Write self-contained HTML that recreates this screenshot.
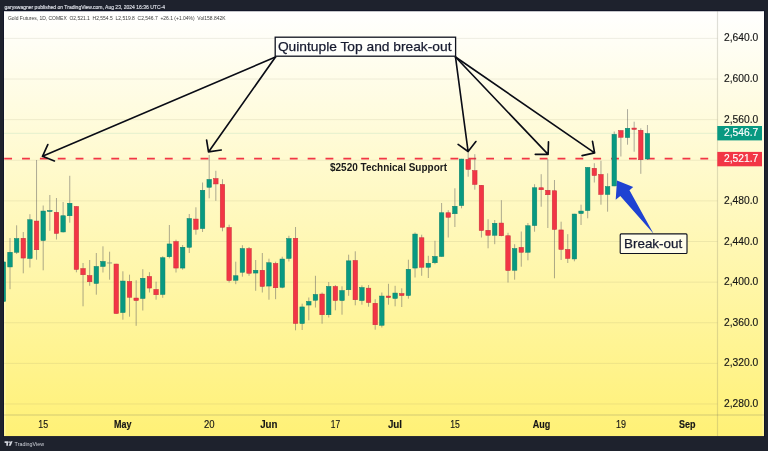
<!DOCTYPE html>
<html><head><meta charset="utf-8"><title>Gold Futures chart</title>
<style>
html,body{margin:0;padding:0;background:#1e222d;}
body{width:768px;height:451px;overflow:hidden;position:relative;font-family:"Liberation Sans",sans-serif;}
svg{position:absolute;left:0;top:0;display:block;}
text{font-family:"Liberation Sans",sans-serif;}
.grid{stroke:rgba(120,120,90,0.13);stroke-width:1;}
.w{stroke:rgba(95,95,95,0.62);stroke-width:0.85;}
.g{fill:#089981;stroke:#0b7f6c;stroke-width:0.5;}
.r{fill:#f23645;stroke:#c72c3a;stroke-width:0.5;}
.arr{fill:none;stroke:#0a0c16;stroke-width:1.65;stroke-linecap:round;stroke-linejoin:round;}
.pl{font-size:10.4px;fill:#161616;stroke:#161616;stroke-width:0.15;}
.tl{font-size:10.3px;fill:#161616;stroke:#161616;stroke-width:0.15;}
.b{font-weight:bold;}
.hdr{font-size:6.1px;fill:#dde0e8;stroke:#dde0e8;stroke-width:0.15;}
.lg{font-size:5.9px;fill:#3a3a3a;}
.tv{font-size:6.2px;fill:#d1d4dc;}
</style></head><body>
<svg width="768" height="451" viewBox="0 0 768 451">
<defs>
<linearGradient id="bg" x1="0" y1="0" x2="0" y2="1">
<stop offset="0" stop-color="#ffffff"/>
<stop offset="1" stop-color="#fff176"/>
</linearGradient>
<clipPath id="cc"><rect x="4" y="11" width="713.5" height="425"/></clipPath>
</defs>
<rect x="0" y="0" width="768" height="451" fill="#1e222d"/>
<rect x="3.2" y="10.2" width="761.6" height="426.8" fill="#12162a"/>
<rect x="4" y="11.25" width="760" height="424.85" fill="url(#bg)"/>
<rect x="4" y="11" width="1.8" height="425" fill="rgba(255,255,255,0.22)"/>
<rect x="762.2" y="11" width="1.8" height="425" fill="rgba(255,255,255,0.22)"/>
<text x="4.5" y="9" class="hdr" textLength="160.5" lengthAdjust="spacingAndGlyphs">garyswagner published on TradingView.com, Aug 23, 2024 16:36 UTC-4</text>
<text x="8" y="19.6" class="lg" textLength="217.5" lengthAdjust="spacingAndGlyphs" xml:space="preserve">Gold Futures, 1D, COMEX  O2,521.1  H2,554.5  L2,519.8  C2,546.7  +26.1 (+1.04%)  Vol158.842K</text>
<line x1="4" x2="717.5" y1="403.98" y2="403.98" class="grid"/>
<line x1="4" x2="717.5" y1="363.36" y2="363.36" class="grid"/>
<line x1="4" x2="717.5" y1="322.74" y2="322.74" class="grid"/>
<line x1="4" x2="717.5" y1="282.12" y2="282.12" class="grid"/>
<line x1="4" x2="717.5" y1="241.50" y2="241.50" class="grid"/>
<line x1="4" x2="717.5" y1="200.88" y2="200.88" class="grid"/>
<line x1="4" x2="717.5" y1="160.26" y2="160.26" class="grid"/>
<line x1="4" x2="717.5" y1="119.64" y2="119.64" class="grid"/>
<line x1="4" x2="717.5" y1="79.02" y2="79.02" class="grid"/>
<line x1="4" x2="717.5" y1="38.40" y2="38.40" class="grid"/>
<line x1="4" x2="717.5" y1="133.3" y2="133.3" stroke="rgba(8,153,129,0.11)" stroke-width="1"/>
<line x1="4.2" x2="717.5" y1="158.7" y2="158.7" stroke="#f23645" stroke-width="1.8" stroke-dasharray="7.85 10"/>
<g clip-path="url(#cc)"><line x1="3.36" x2="3.36" y1="258.0" y2="305.0" class="w"/>
<rect x="1.11" y="261.95" width="4.5" height="39.5" class="g"/>
<line x1="10.00" x2="10.00" y1="238.0" y2="289.2" class="w"/>
<rect x="7.75" y="252.25" width="4.5" height="14.7" class="g"/>
<line x1="16.64" x2="16.64" y1="225.3" y2="254.0" class="w"/>
<rect x="14.39" y="238.55" width="4.5" height="13.7" class="g"/>
<line x1="23.28" x2="23.28" y1="232.0" y2="273.3" class="w"/>
<rect x="21.03" y="238.25" width="4.5" height="19.8" class="r"/>
<line x1="29.92" x2="29.92" y1="214.2" y2="267.5" class="w"/>
<rect x="27.67" y="219.75" width="4.5" height="38.7" class="g"/>
<line x1="36.56" x2="36.56" y1="160.0" y2="259.7" class="w"/>
<rect x="34.31" y="221.05" width="4.5" height="28.7" class="r"/>
<line x1="43.20" x2="43.20" y1="205.5" y2="270.3" class="w"/>
<rect x="40.95" y="211.05" width="4.5" height="29.5" class="g"/>
<line x1="49.84" x2="49.84" y1="195.0" y2="230.8" class="w"/>
<rect x="47.59" y="210.55" width="4.5" height="0.9" class="g"/>
<line x1="56.48" x2="56.48" y1="198.0" y2="239.5" class="w"/>
<rect x="54.23" y="212.25" width="4.5" height="21.2" class="r"/>
<line x1="63.12" x2="63.12" y1="202.0" y2="232.5" class="w"/>
<rect x="60.87" y="215.75" width="4.5" height="16.2" class="g"/>
<line x1="69.76" x2="69.76" y1="175.8" y2="222.7" class="w"/>
<rect x="67.51" y="203.25" width="4.5" height="12.5" class="g"/>
<line x1="76.40" x2="76.40" y1="206.2" y2="272.3" class="w"/>
<rect x="74.15" y="206.45" width="4.5" height="63.0" class="r"/>
<line x1="83.04" x2="83.04" y1="263.0" y2="306.3" class="w"/>
<rect x="80.79" y="268.55" width="4.5" height="6.2" class="r"/>
<line x1="89.68" x2="89.68" y1="260.0" y2="285.8" class="w"/>
<rect x="87.43" y="275.55" width="4.5" height="6.2" class="r"/>
<line x1="96.32" x2="96.32" y1="253.0" y2="294.7" class="w"/>
<rect x="94.07" y="266.45" width="4.5" height="17.0" class="g"/>
<line x1="102.96" x2="102.96" y1="246.3" y2="272.5" class="w"/>
<rect x="100.71" y="261.45" width="4.5" height="5.0" class="g"/>
<line x1="109.60" x2="109.60" y1="251.7" y2="279.7" class="w"/>
<rect x="107.10" y="262.5" width="5.0" height="0.9" fill="#8d9a80"/>
<line x1="116.24" x2="116.24" y1="263.8" y2="313.8" class="w"/>
<rect x="113.99" y="264.05" width="4.5" height="49.5" class="r"/>
<line x1="122.88" x2="122.88" y1="271.3" y2="319.7" class="w"/>
<rect x="120.63" y="281.05" width="4.5" height="31.5" class="g"/>
<line x1="129.52" x2="129.52" y1="274.7" y2="316.7" class="w"/>
<rect x="127.27" y="281.45" width="4.5" height="15.8" class="r"/>
<line x1="136.16" x2="136.16" y1="280.3" y2="325.8" class="w"/>
<rect x="133.91" y="298.05" width="4.5" height="2.5" class="r"/>
<line x1="142.80" x2="142.80" y1="269.2" y2="310.5" class="w"/>
<rect x="140.55" y="278.25" width="4.5" height="20.2" class="g"/>
<line x1="149.44" x2="149.44" y1="272.2" y2="292.5" class="w"/>
<rect x="147.19" y="276.45" width="4.5" height="11.6" class="r"/>
<line x1="156.08" x2="156.08" y1="281.7" y2="299.7" class="w"/>
<rect x="153.83" y="289.45" width="4.5" height="5.3" class="r"/>
<line x1="162.72" x2="162.72" y1="256.3" y2="297.8" class="w"/>
<rect x="160.47" y="257.75" width="4.5" height="36.7" class="g"/>
<line x1="169.36" x2="169.36" y1="225.0" y2="258.3" class="w"/>
<rect x="167.11" y="243.95" width="4.5" height="12.8" class="g"/>
<line x1="176.00" x2="176.00" y1="239.7" y2="272.5" class="w"/>
<rect x="173.75" y="241.55" width="4.5" height="26.5" class="r"/>
<line x1="182.64" x2="182.64" y1="245.0" y2="269.7" class="w"/>
<rect x="180.39" y="247.25" width="4.5" height="20.8" class="g"/>
<line x1="189.28" x2="189.28" y1="214.0" y2="253.0" class="w"/>
<rect x="187.03" y="218.55" width="4.5" height="28.7" class="g"/>
<line x1="195.92" x2="195.92" y1="207.3" y2="234.7" class="w"/>
<rect x="193.67" y="219.05" width="4.5" height="10.2" class="r"/>
<line x1="202.56" x2="202.56" y1="182.5" y2="232.0" class="w"/>
<rect x="200.31" y="190.25" width="4.5" height="38.3" class="g"/>
<line x1="209.20" x2="209.20" y1="155.0" y2="198.3" class="w"/>
<rect x="206.95" y="179.45" width="4.5" height="7.8" class="g"/>
<line x1="215.84" x2="215.84" y1="170.8" y2="200.8" class="w"/>
<rect x="213.59" y="178.55" width="4.5" height="5.4" class="r"/>
<line x1="222.48" x2="222.48" y1="179.2" y2="231.3" class="w"/>
<rect x="220.23" y="184.45" width="4.5" height="42.8" class="r"/>
<line x1="229.12" x2="229.12" y1="224.7" y2="282.5" class="w"/>
<rect x="226.87" y="227.45" width="4.5" height="53.1" class="r"/>
<line x1="235.76" x2="235.76" y1="261.7" y2="284.2" class="w"/>
<rect x="233.51" y="275.75" width="4.5" height="4.5" class="g"/>
<line x1="242.40" x2="242.40" y1="245.2" y2="276.7" class="w"/>
<rect x="240.15" y="248.55" width="4.5" height="23.7" class="g"/>
<line x1="249.04" x2="249.04" y1="247.0" y2="275.8" class="w"/>
<rect x="246.79" y="248.55" width="4.5" height="24.7" class="r"/>
<line x1="255.68" x2="255.68" y1="260.0" y2="290.8" class="w"/>
<rect x="253.43" y="270.25" width="4.5" height="2.8" class="g"/>
<line x1="262.32" x2="262.32" y1="253.0" y2="292.5" class="w"/>
<rect x="260.07" y="270.25" width="4.5" height="16.2" class="r"/>
<line x1="268.96" x2="268.96" y1="258.7" y2="299.7" class="w"/>
<rect x="266.71" y="262.75" width="4.5" height="23.3" class="g"/>
<line x1="275.60" x2="275.60" y1="261.7" y2="299.2" class="w"/>
<rect x="273.35" y="263.45" width="4.5" height="24.3" class="r"/>
<line x1="282.24" x2="282.24" y1="256.7" y2="288.3" class="w"/>
<rect x="279.99" y="259.05" width="4.5" height="28.2" class="g"/>
<line x1="288.88" x2="288.88" y1="235.8" y2="261.5" class="w"/>
<rect x="286.63" y="238.55" width="4.5" height="19.9" class="g"/>
<line x1="295.52" x2="295.52" y1="227.0" y2="330.3" class="w"/>
<rect x="293.27" y="238.25" width="4.5" height="85.2" class="r"/>
<line x1="302.16" x2="302.16" y1="303.7" y2="330.0" class="w"/>
<rect x="299.91" y="306.95" width="4.5" height="16.6" class="g"/>
<line x1="308.80" x2="308.80" y1="297.5" y2="320.3" class="w"/>
<rect x="306.55" y="301.45" width="4.5" height="3.6" class="g"/>
<line x1="315.44" x2="315.44" y1="275.8" y2="307.5" class="w"/>
<rect x="313.19" y="294.45" width="4.5" height="5.8" class="g"/>
<line x1="322.08" x2="322.08" y1="292.5" y2="323.7" class="w"/>
<rect x="319.83" y="294.05" width="4.5" height="20.7" class="r"/>
<line x1="328.72" x2="328.72" y1="282.0" y2="317.5" class="w"/>
<rect x="326.47" y="286.45" width="4.5" height="28.3" class="g"/>
<line x1="335.36" x2="335.36" y1="285.0" y2="310.3" class="w"/>
<rect x="333.11" y="286.45" width="4.5" height="14.1" class="r"/>
<line x1="342.00" x2="342.00" y1="286.3" y2="314.7" class="w"/>
<rect x="339.75" y="290.55" width="4.5" height="10.0" class="g"/>
<line x1="348.64" x2="348.64" y1="254.7" y2="295.8" class="w"/>
<rect x="346.39" y="260.85" width="4.5" height="28.9" class="g"/>
<line x1="355.28" x2="355.28" y1="251.3" y2="305.3" class="w"/>
<rect x="353.03" y="260.45" width="4.5" height="39.3" class="r"/>
<line x1="361.92" x2="361.92" y1="285.4" y2="304.7" class="w"/>
<rect x="359.67" y="287.55" width="4.5" height="13.0" class="g"/>
<line x1="368.56" x2="368.56" y1="285.0" y2="306.7" class="w"/>
<rect x="366.31" y="288.15" width="4.5" height="14.4" class="r"/>
<line x1="375.20" x2="375.20" y1="299.2" y2="329.7" class="w"/>
<rect x="372.95" y="303.25" width="4.5" height="21.5" class="r"/>
<line x1="381.84" x2="381.84" y1="292.5" y2="327.5" class="w"/>
<rect x="379.59" y="296.05" width="4.5" height="29.2" class="g"/>
<line x1="388.48" x2="388.48" y1="283.8" y2="304.7" class="w"/>
<rect x="386.23" y="296.05" width="4.5" height="1.5" class="r"/>
<line x1="395.12" x2="395.12" y1="285.8" y2="306.3" class="w"/>
<rect x="392.87" y="293.05" width="4.5" height="5.4" class="g"/>
<line x1="401.76" x2="401.76" y1="288.3" y2="307.0" class="w"/>
<rect x="399.51" y="293.55" width="4.5" height="2.0" class="r"/>
<line x1="408.40" x2="408.40" y1="259.7" y2="298.7" class="w"/>
<rect x="406.15" y="269.25" width="4.5" height="26.3" class="g"/>
<line x1="415.04" x2="415.04" y1="232.5" y2="277.5" class="w"/>
<rect x="412.79" y="234.05" width="4.5" height="34.0" class="g"/>
<line x1="421.68" x2="421.68" y1="234.7" y2="275.8" class="w"/>
<rect x="419.43" y="237.75" width="4.5" height="29.5" class="r"/>
<line x1="428.32" x2="428.32" y1="255.8" y2="278.0" class="w"/>
<rect x="426.07" y="263.25" width="4.5" height="4.0" class="g"/>
<line x1="434.96" x2="434.96" y1="240.8" y2="264.2" class="w"/>
<rect x="432.71" y="256.45" width="4.5" height="6.3" class="g"/>
<line x1="441.60" x2="441.60" y1="203.0" y2="256.7" class="w"/>
<rect x="439.35" y="212.75" width="4.5" height="43.7" class="g"/>
<line x1="448.24" x2="448.24" y1="210.2" y2="237.5" class="w"/>
<rect x="445.99" y="212.75" width="4.5" height="4.5" class="r"/>
<line x1="454.88" x2="454.88" y1="188.3" y2="227.0" class="w"/>
<rect x="452.63" y="206.25" width="4.5" height="7.5" class="g"/>
<line x1="461.52" x2="461.52" y1="158.8" y2="208.3" class="w"/>
<rect x="459.27" y="159.05" width="4.5" height="46.5" class="g"/>
<line x1="468.16" x2="468.16" y1="151.8" y2="176.7" class="w"/>
<rect x="465.91" y="159.45" width="4.5" height="10.0" class="r"/>
<line x1="474.80" x2="474.80" y1="154.2" y2="189.7" class="w"/>
<rect x="472.55" y="170.55" width="4.5" height="13.9" class="r"/>
<line x1="481.44" x2="481.44" y1="185.0" y2="237.5" class="w"/>
<rect x="479.19" y="185.25" width="4.5" height="45.3" class="r"/>
<line x1="488.08" x2="488.08" y1="219.2" y2="248.3" class="w"/>
<rect x="485.83" y="230.25" width="4.5" height="5.0" class="r"/>
<line x1="494.72" x2="494.72" y1="220.0" y2="244.2" class="w"/>
<rect x="492.47" y="223.25" width="4.5" height="12.0" class="g"/>
<line x1="501.36" x2="501.36" y1="200.2" y2="236.3" class="w"/>
<rect x="499.11" y="223.05" width="4.5" height="12.7" class="r"/>
<line x1="508.00" x2="508.00" y1="232.8" y2="282.5" class="w"/>
<rect x="505.75" y="235.75" width="4.5" height="34.8" class="r"/>
<line x1="514.64" x2="514.64" y1="244.2" y2="279.7" class="w"/>
<rect x="512.39" y="248.55" width="4.5" height="21.7" class="g"/>
<line x1="521.28" x2="521.28" y1="231.5" y2="266.7" class="w"/>
<rect x="519.03" y="247.35" width="4.5" height="4.9" class="r"/>
<line x1="527.92" x2="527.92" y1="223.0" y2="260.3" class="w"/>
<rect x="525.67" y="225.75" width="4.5" height="26.5" class="g"/>
<line x1="534.56" x2="534.56" y1="184.2" y2="231.7" class="w"/>
<rect x="532.31" y="187.75" width="4.5" height="37.8" class="g"/>
<line x1="541.20" x2="541.20" y1="174.2" y2="206.7" class="w"/>
<rect x="538.95" y="187.75" width="4.5" height="2.0" class="r"/>
<line x1="547.84" x2="547.84" y1="159.2" y2="228.0" class="w"/>
<rect x="545.59" y="190.25" width="4.5" height="4.5" class="r"/>
<line x1="554.48" x2="554.48" y1="180.0" y2="278.3" class="w"/>
<rect x="552.23" y="190.75" width="4.5" height="38.7" class="r"/>
<line x1="561.12" x2="561.12" y1="221.7" y2="260.0" class="w"/>
<rect x="558.87" y="229.95" width="4.5" height="19.5" class="r"/>
<line x1="567.76" x2="567.76" y1="234.2" y2="263.0" class="w"/>
<rect x="565.51" y="249.45" width="4.5" height="9.0" class="r"/>
<line x1="574.40" x2="574.40" y1="213.8" y2="261.3" class="w"/>
<rect x="572.15" y="214.05" width="4.5" height="44.9" class="g"/>
<line x1="581.04" x2="581.04" y1="204.7" y2="225.0" class="w"/>
<rect x="578.79" y="211.05" width="4.5" height="2.5" class="g"/>
<line x1="587.68" x2="587.68" y1="167.0" y2="218.3" class="w"/>
<rect x="585.43" y="167.45" width="4.5" height="43.1" class="g"/>
<line x1="594.32" x2="594.32" y1="163.2" y2="182.5" class="w"/>
<rect x="592.07" y="168.25" width="4.5" height="7.3" class="r"/>
<line x1="600.96" x2="600.96" y1="160.8" y2="204.7" class="w"/>
<rect x="598.71" y="174.45" width="4.5" height="20.0" class="r"/>
<line x1="607.60" x2="607.60" y1="173.3" y2="211.7" class="w"/>
<rect x="605.35" y="186.55" width="4.5" height="7.9" class="g"/>
<line x1="614.24" x2="614.24" y1="131.5" y2="186.2" class="w"/>
<rect x="611.99" y="134.35" width="4.5" height="51.6" class="g"/>
<line x1="620.88" x2="620.88" y1="130.3" y2="156.5" class="w"/>
<rect x="618.63" y="130.55" width="4.5" height="6.7" class="r"/>
<line x1="627.52" x2="627.52" y1="109.2" y2="144.7" class="w"/>
<rect x="625.27" y="128.25" width="4.5" height="9.3" class="g"/>
<line x1="634.16" x2="634.16" y1="121.7" y2="151.7" class="w"/>
<rect x="631.91" y="128.05" width="4.5" height="1.4" class="r"/>
<line x1="640.80" x2="640.80" y1="128.3" y2="173.8" class="w"/>
<rect x="638.55" y="130.25" width="4.5" height="29.5" class="r"/>
<line x1="647.44" x2="647.44" y1="125.0" y2="159.8" class="w"/>
<rect x="645.19" y="133.55" width="4.5" height="25.4" class="g"/></g>
<path d="M275.5 57L42.5 156.3M47.8 144.6L42.5 156.3L54.4 160.9" class="arr"/>
<path d="M275.5 57L208.5 151.9M206.6 140L208.5 151.9L221.3 150" class="arr"/>
<path d="M455.5 57L468.1 151.5M458.1 144.4L468.1 151.5L475.9 141.5" class="arr"/>
<path d="M455.5 57L548.1 154.4M548.5 141.9L548.1 154.4L535.3 154.4" class="arr"/>
<path d="M455.5 57L594.6 152.9M592.5 141.3L594.6 152.9L582.1 155.6" class="arr"/>
<path d="M617 180.4L633.2 187L629.5 190.2L653.6 233.8L620.3 196L615.7 199.8Z" fill="#1f42d2"/>
<line x1="717.5" x2="717.5" y1="11" y2="436" stroke="rgba(110,110,90,0.22)" stroke-width="1.2"/>
<line x1="4" x2="764" y1="415" y2="415" stroke="rgba(110,110,90,0.3)" stroke-width="1"/>
<text x="724" y="407.0" class="pl" textLength="34.3" lengthAdjust="spacingAndGlyphs">2,280.0</text>
<text x="724" y="366.4" class="pl" textLength="34.3" lengthAdjust="spacingAndGlyphs">2,320.0</text>
<text x="724" y="325.7" class="pl" textLength="34.3" lengthAdjust="spacingAndGlyphs">2,360.0</text>
<text x="724" y="285.1" class="pl" textLength="34.3" lengthAdjust="spacingAndGlyphs">2,400.0</text>
<text x="724" y="244.5" class="pl" textLength="34.3" lengthAdjust="spacingAndGlyphs">2,440.0</text>
<text x="724" y="203.9" class="pl" textLength="34.3" lengthAdjust="spacingAndGlyphs">2,480.0</text>
<text x="724" y="163.3" class="pl" textLength="34.3" lengthAdjust="spacingAndGlyphs">2,520.0</text>
<text x="724" y="122.6" class="pl" textLength="34.3" lengthAdjust="spacingAndGlyphs">2,560.0</text>
<text x="724" y="82.0" class="pl" textLength="34.3" lengthAdjust="spacingAndGlyphs">2,600.0</text>
<text x="724" y="41.4" class="pl" textLength="34.3" lengthAdjust="spacingAndGlyphs">2,640.0</text>

<text x="38.30" y="428" textLength="9.8" lengthAdjust="spacingAndGlyphs" class="tl">15</text>
<text x="113.95" y="428" textLength="17.5" lengthAdjust="spacingAndGlyphs" class="tl b">May</text>
<text x="203.90" y="428" textLength="10.6" lengthAdjust="spacingAndGlyphs" class="tl">20</text>
<text x="260.15" y="428" textLength="17.3" lengthAdjust="spacingAndGlyphs" class="tl b">Jun</text>
<text x="330.70" y="428" textLength="9.4" lengthAdjust="spacingAndGlyphs" class="tl">17</text>
<text x="387.90" y="428" textLength="14.2" lengthAdjust="spacingAndGlyphs" class="tl b">Jul</text>
<text x="450.20" y="428" textLength="9.6" lengthAdjust="spacingAndGlyphs" class="tl">15</text>
<text x="532.65" y="428" textLength="17.5" lengthAdjust="spacingAndGlyphs" class="tl b">Aug</text>
<text x="616.00" y="428" textLength="10" lengthAdjust="spacingAndGlyphs" class="tl">19</text>
<text x="679.05" y="428" textLength="16.5" lengthAdjust="spacingAndGlyphs" class="tl b">Sep</text>

<rect x="717.3" y="126" width="44.7" height="14.4" fill="#089981"/>
<text x="724" y="136.3" class="pl" style="fill:#fff;stroke:#fff" textLength="34.3" lengthAdjust="spacingAndGlyphs">2,546.7</text>
<rect x="717.3" y="151.9" width="44.7" height="14.4" fill="#f23645"/>
<text x="724" y="162.2" class="pl" style="fill:#fff;stroke:#fff" textLength="34.3" lengthAdjust="spacingAndGlyphs">2,521.7</text>
<rect x="275.2" y="37.2" width="180.4" height="19" fill="#fffffb" stroke="#10131f" stroke-width="1.3"/>
<text x="277.9" y="51.2" font-size="13.6" fill="#171b30" stroke="#171b30" stroke-width="0.25" textLength="173.6" lengthAdjust="spacingAndGlyphs">Quintuple Top and break-out</text>
<rect x="620.2" y="233.9" width="66.8" height="19.6" rx="1" fill="#fffdea" stroke="#10131f" stroke-width="1.15"/>
<text x="624" y="248.1" font-size="12.8" fill="#171b30" stroke="#171b30" stroke-width="0.25" textLength="58.2" lengthAdjust="spacingAndGlyphs">Break-out</text>
<text x="330" y="170.5" font-size="10.2" font-weight="bold" fill="#1a1a1a" textLength="117" lengthAdjust="spacingAndGlyphs">$2520 Technical Support</text>
<g fill="#d1d4dc"><path d="M4.6 441.2h3.4v4.6h-1.7v-2.9h-1.7z"/><circle cx="9.1" cy="442.1" r="0.85"/><path d="M10.6 441.2h2l-1.9 4.6h-2z"/></g>
<text x="14.6" y="446" class="tv" textLength="29.4" lengthAdjust="spacingAndGlyphs">TradingView</text>
</svg>
</body></html>
